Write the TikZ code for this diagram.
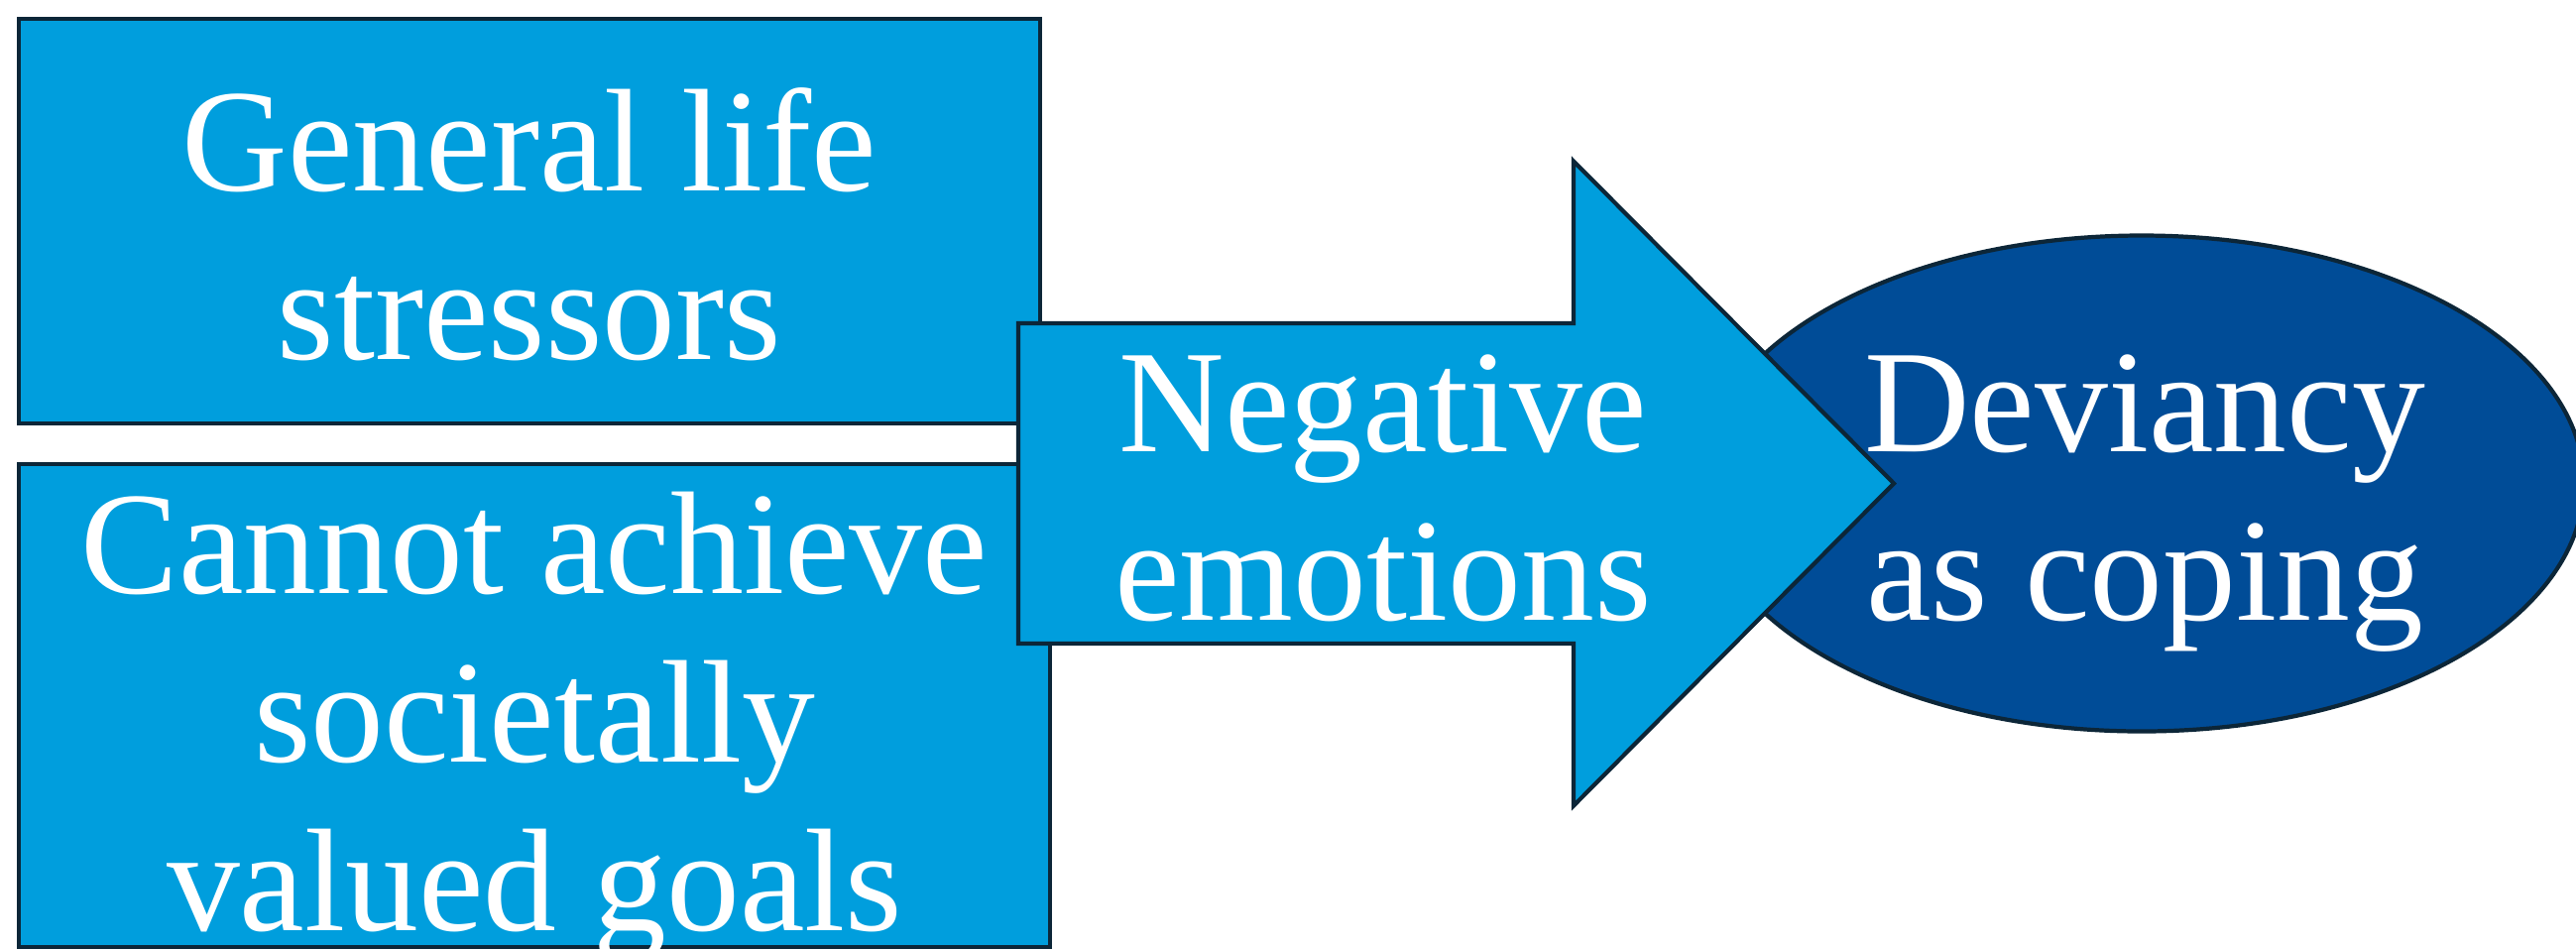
\documentclass[tikz,border=0pt]{standalone}
\usepackage{fontspec}
\setmainfont{Liberation Serif}
\definecolor{lightblue}{RGB}{0,158,221}
\definecolor{darkblue}{RGB}{0,76,151}
\definecolor{edgecol}{RGB}{12,38,56}
\tikzset{
  boxshape/.style={draw=edgecol, line width=1.2pt, fill=lightblue},
  ovalshape/.style={draw=edgecol, line width=1.2pt, fill=darkblue},
  lbl/.style={anchor=base, text=white, inner sep=0pt, font=\fontsize{42}{48}\selectfont}
}
\begin{document}
\begin{tikzpicture}
\useasboundingbox (0,0) rectangle (25.98,-9.57);
% boxes
\draw[boxshape] (0.19,-0.19) rectangle (10.49,-4.27);
\draw[boxshape] (0.19,-4.68) rectangle (10.59,-9.55);
% ellipse
\draw[ovalshape] (21.60,-4.875) ellipse [x radius=4.46, y radius=2.50];
% arrow
\draw[boxshape, line join=miter] (10.27,-3.26) -- (15.87,-3.26) -- (15.87,-1.625) -- (19.10,-4.875)
  -- (15.87,-8.125) -- (15.87,-6.49) -- (10.27,-6.49) -- cycle;
% texts
\node[lbl] (t1a) at (5.34,-1.92) {General life};
\node[lbl] (t1b) at (5.34,-3.62) {stressors};
\node[lbl] (t2a) at (5.39,-5.98) {Cannot achieve};
\node[lbl] (t2b) at (5.39,-7.68) {societally};
\node[lbl] (t2c) at (5.39,-9.38) {valued goals};
\node[lbl] (t3a) at (13.95,-4.55) {Negative};
\node[lbl] (t3b) at (13.95,-6.25) {emotions};
\node[lbl] (t4a) at (21.63,-4.55) {Deviancy};
\node[lbl] (t4b) at (21.63,-6.25) {as coping};
\end{tikzpicture}
\end{document}
